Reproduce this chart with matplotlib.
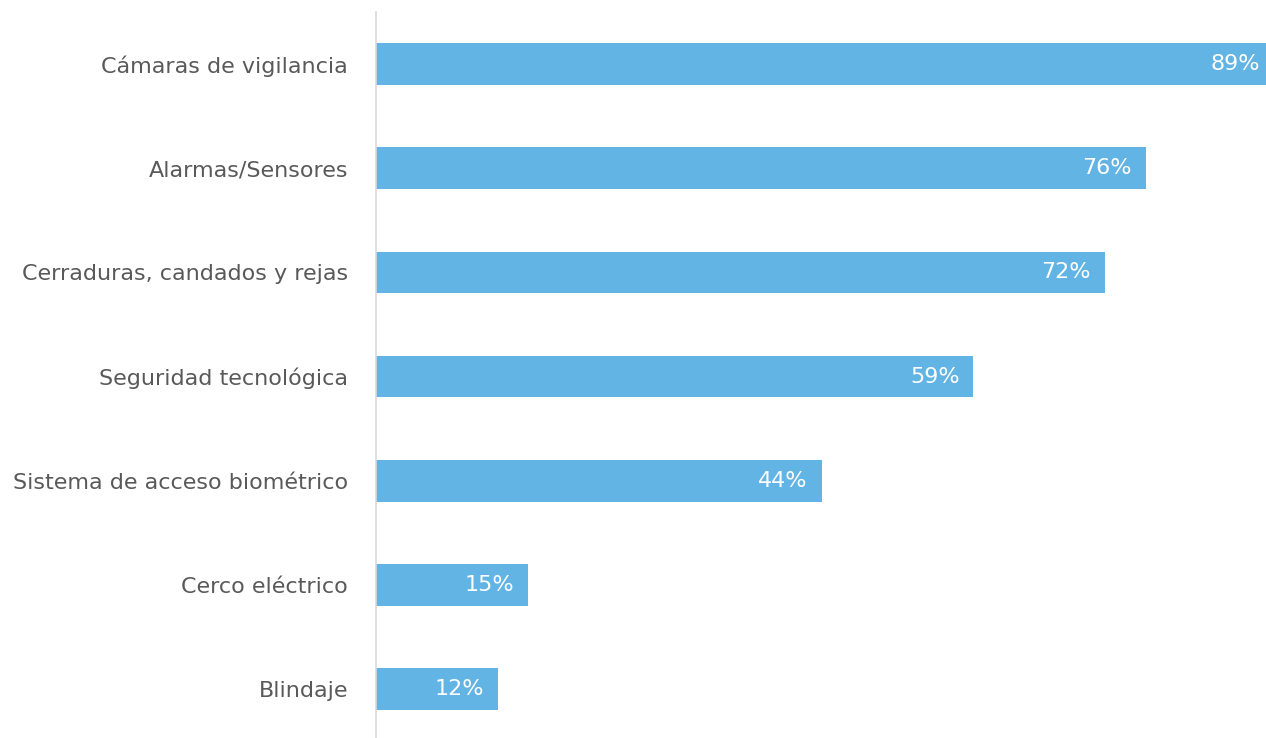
import matplotlib

matplotlib.use("Agg")
import matplotlib.pyplot as plt

categories = [
    "Cámaras de vigilancia",
    "Alarmas/Sensores",
    "Cerraduras, candados y rejas",
    "Seguridad tecnológica",
    "Sistema de acceso biométrico",
    "Cerco eléctrico",
    "Blindaje",
]
values = [89, 76, 72, 59, 44, 15, 12]

bar_color = "#62B4E4"
text_color = "#595959"

plt.rcParams["font.family"] = ["DejaVu Sans"]

fig = plt.figure(figsize=(12.66, 7.38), dpi=100)
ax = fig.add_axes([376 / 1266, 0.0, 1 - 376 / 1266, 726 / 738])

xmax = 87.9
y = list(range(len(categories)))
ax.barh(y, values, height=0.4, color=bar_color)
ax.set_xlim(0, xmax)
ax.set_ylim(6.47, -0.5)

ax.set_yticks(y)
ax.set_yticklabels(categories, color=text_color, fontsize=16)
ax.tick_params(axis="y", length=0, pad=20)
ax.set_xticks([])

for s in ["top", "right", "bottom"]:
    ax.spines[s].set_visible(False)
ax.spines["left"].set_color("#D9D9D9")
ax.spines["left"].set_linewidth(1.2)

# value labels sit inside the bar end; the longest bar runs off the edge
for yi, v in zip(y, values):
    x = min(v, xmax)
    ax.annotate(f"{v}%", xy=(x, yi), xytext=(-10 if v < xmax else -4, 0),
                textcoords="offset points", ha="right", va="center",
                color="white", fontsize=16)

fig.savefig("out.png", dpi=100)
